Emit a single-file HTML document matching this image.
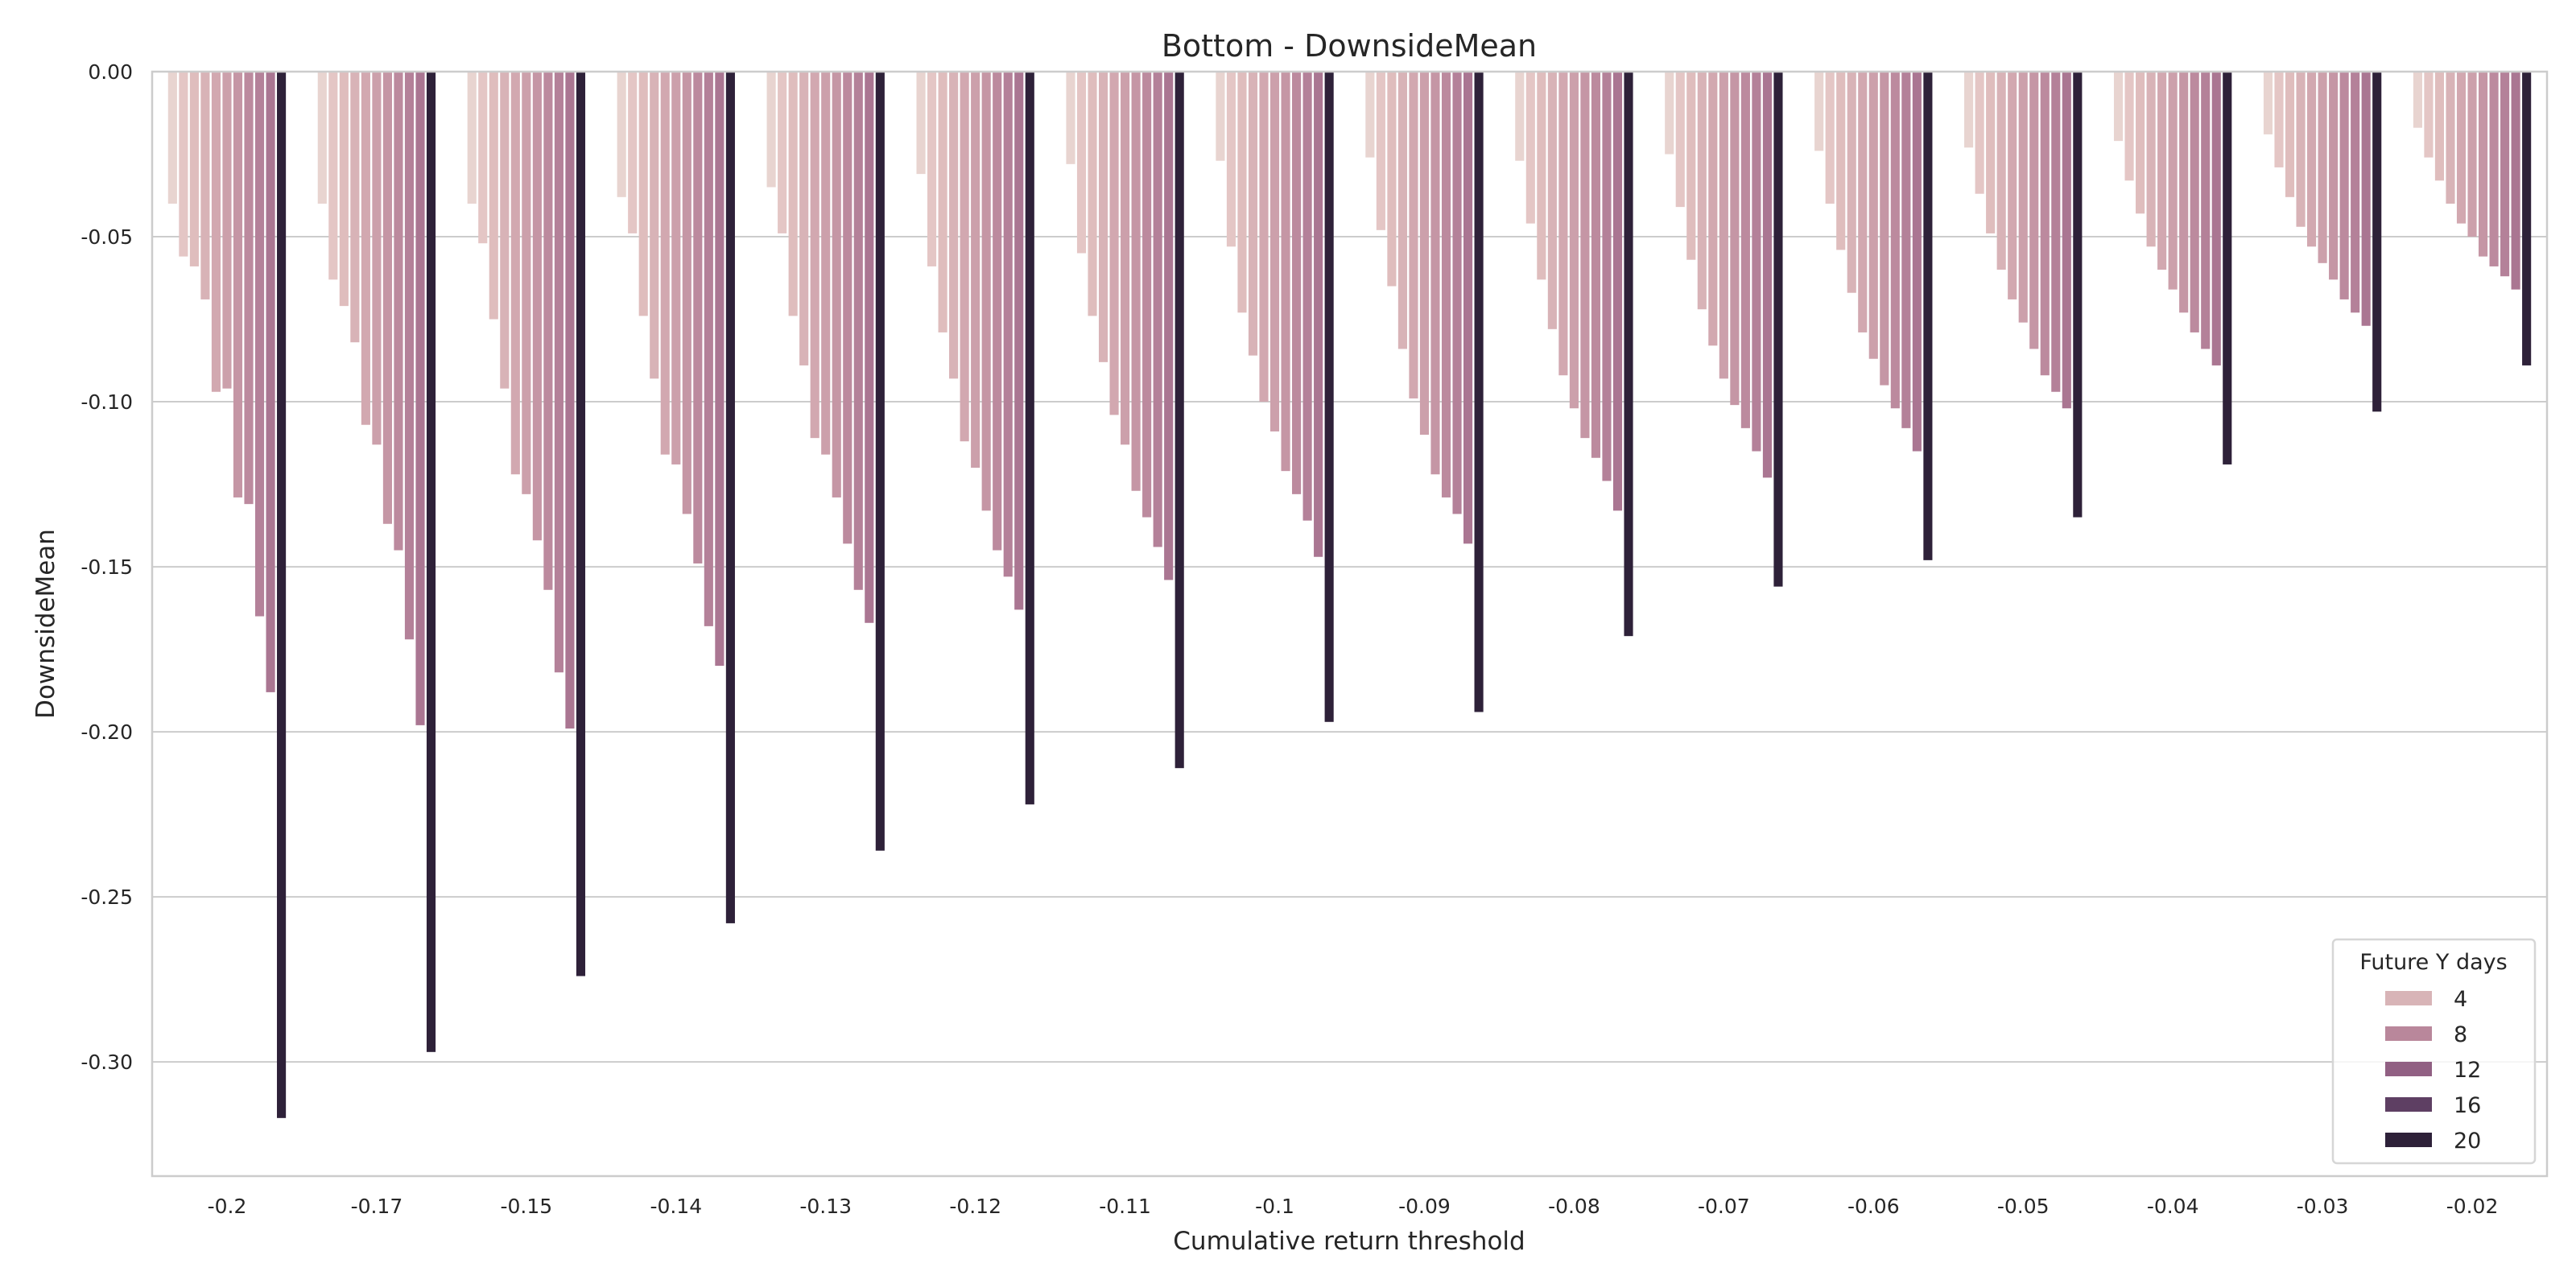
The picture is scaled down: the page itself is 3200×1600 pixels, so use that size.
<!DOCTYPE html>
<html><head><meta charset="utf-8"><style>
html,body{margin:0;padding:0;background:#fff;}
svg{display:block;font-family:"DejaVu Sans","Liberation Sans",sans-serif;}
</style></head><body>
<svg id="chart" width="3200" height="1600" viewBox="0 0 3200 1600" xmlns="http://www.w3.org/2000/svg">
<rect x="0" y="0" width="3200" height="1600" fill="#fff"/>
<g id="grid"></g>
<g id="bars"></g>
<rect x="189" y="89" width="2975" height="1372" fill="none" stroke="#cccccc" stroke-width="2.5"/>
<g id="yticks"></g>
<g id="xticks"></g>
<text x="1676" y="70" font-size="38" text-anchor="middle" fill="#262626">Bottom - DownsideMean</text>
<text x="1676" y="1552" font-size="31" text-anchor="middle" fill="#262626">Cumulative return threshold</text>
<text x="67" y="775" font-size="31" text-anchor="middle" fill="#262626" transform="rotate(-90 67 775)">DownsideMean</text>
<g id="legend"></g>
</svg>
<script>
const categories = ["-0.2","-0.17","-0.15","-0.14","-0.13","-0.12","-0.11","-0.1","-0.09","-0.08","-0.07","-0.06","-0.05","-0.04","-0.03","-0.02"];
const hueLevels = [1,2,3,4,5,6,7,8,9,10,20];
const s1 = [-0.040,-0.040,-0.040,-0.038,-0.035,-0.031,-0.028,-0.027,-0.026,-0.027,-0.025,-0.024,-0.023,-0.021,-0.019,-0.017];
const s2 = [-0.056,-0.063,-0.052,-0.049,-0.049,-0.059,-0.055,-0.053,-0.048,-0.046,-0.041,-0.040,-0.037,-0.033,-0.029,-0.026];
const s3 = [-0.059,-0.071,-0.075,-0.074,-0.074,-0.079,-0.074,-0.073,-0.065,-0.063,-0.057,-0.054,-0.049,-0.043,-0.038,-0.033];
const s4 = [-0.069,-0.082,-0.096,-0.093,-0.089,-0.093,-0.088,-0.086,-0.084,-0.078,-0.072,-0.067,-0.060,-0.053,-0.047,-0.040];
const s5 = [-0.097,-0.107,-0.122,-0.116,-0.111,-0.112,-0.104,-0.100,-0.099,-0.092,-0.083,-0.079,-0.069,-0.060,-0.053,-0.046];
const s6 = [-0.096,-0.113,-0.128,-0.119,-0.116,-0.120,-0.113,-0.109,-0.110,-0.102,-0.093,-0.087,-0.076,-0.066,-0.058,-0.050];
const s7 = [-0.129,-0.137,-0.142,-0.134,-0.129,-0.133,-0.127,-0.121,-0.122,-0.111,-0.101,-0.095,-0.084,-0.073,-0.063,-0.056];
const s8 = [-0.131,-0.145,-0.157,-0.149,-0.143,-0.145,-0.135,-0.128,-0.129,-0.117,-0.108,-0.102,-0.092,-0.079,-0.069,-0.059];
const s9 = [-0.165,-0.172,-0.182,-0.168,-0.157,-0.153,-0.144,-0.136,-0.134,-0.124,-0.115,-0.108,-0.097,-0.084,-0.073,-0.062];
const s10 = [-0.188,-0.198,-0.199,-0.180,-0.167,-0.163,-0.154,-0.147,-0.143,-0.133,-0.123,-0.115,-0.102,-0.089,-0.077,-0.066];
const s20 = [-0.317,-0.297,-0.274,-0.258,-0.236,-0.222,-0.211,-0.197,-0.194,-0.171,-0.156,-0.148,-0.135,-0.119,-0.103,-0.089];
const series = [s1,s2,s3,s4,s5,s6,s7,s8,s9,s10,s20];
const yTickValues = [0,-0.05,-0.10,-0.15,-0.20,-0.25,-0.30];
const yTickLabels = ["0.00","-0.05","-0.10","-0.15","-0.20","-0.25","-0.30"];
const legendLevels = ["4","8","12","16","20"];

const colors = ["#e8d4d0","#e4c6c5","#dfbdbd","#d8b3b7","#d2a8b0","#cca0ab","#c596a5","#bc8a9e","#b48199","#aa7692","#2e2139"];
const legendColors = ["#d8b4b7","#b9879b","#916083","#5e3f63","#2e2139"];
const NS = "http://www.w3.org/2000/svg";
const L = 189, R = 3164, T = 89, B = 1461;
const yMin = -0.3346, yMax = 0;
function y(v){ return T + (yMax - v) / (yMax - yMin) * (B - T); }
const band = (R - L) / categories.length;
function xBand(i){ return L + i * band; }
function mk(tag, attrs, parent){ const e = document.createElementNS(NS, tag); for (const k in attrs) e.setAttribute(k, attrs[k]); parent.appendChild(e); return e; }

const grid = document.getElementById('grid'), yt = document.getElementById('yticks');
yTickValues.forEach((v, i) => {
  const gl = mk('line', {x1:L, x2:R, y1:y(v), y2:y(v), stroke:'#cccccc', 'stroke-width':2}, grid);
  
  
  const t = mk('text', {x:L-24, y:y(v)+9, 'font-size':25, 'text-anchor':'end', fill:'#262626'}, yt);
  
  
  t.textContent = yTickLabels[i];
});
const xt = document.getElementById('xticks');
categories.forEach((c, i) => {
  const t = mk('text', {x:xBand(i)+band/2, y:1507, 'font-size':25, 'text-anchor':'middle', fill:'#262626'}, xt);
  
  
  t.textContent = c;
});
const bars = document.getElementById('bars');
const bw = band * 0.8 / hueLevels.length;
series.forEach((s, k) => {
  s.forEach((v, i) => {
    const x0 = xBand(i) + band * 0.1 + k * bw;
    const r = mk('rect', {x:x0+1.2, y:y(0), width:bw-2.4, height:Math.max(0, y(v)-y(0)), fill:colors[k]}, bars);
    
    
  });
});
const lg = document.getElementById('legend');
mk('rect', {x:2898, y:1167, width:251, height:278, rx:5, fill:'#fff', 'fill-opacity':0.8, stroke:'#d6d6d6', 'stroke-width':2.5}, lg);
const lt = mk('text', {x:3023, y:1204, 'font-size':27, 'text-anchor':'middle', fill:'#262626'}, lg);


lt.textContent = 'Future Y days';
legendLevels.forEach((lv, i) => {
  const cy = 1240 + i * 44;
  const p = mk('rect', {x:2963, y:cy-9, width:58, height:18, fill:legendColors[i]}, lg);
  
  
  const t = mk('text', {x:3048, y:cy+10, 'font-size':27, fill:'#262626'}, lg);
  
  
  t.textContent = lv;
});
</script>
</body></html>
